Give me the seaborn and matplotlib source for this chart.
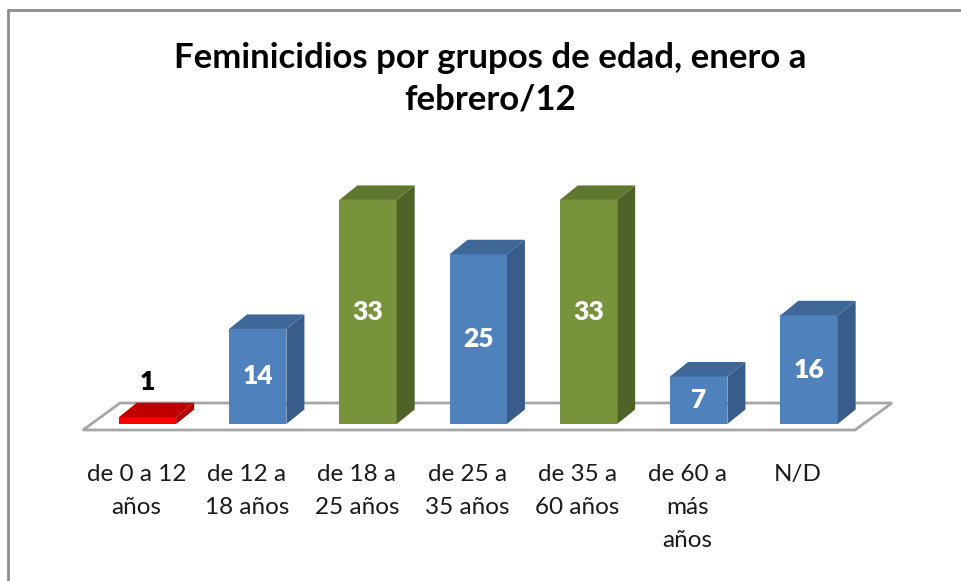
import numpy as np
import pandas as pd
import matplotlib
matplotlib.use("Agg")
import matplotlib.pyplot as plt
from matplotlib.patches import Polygon
from matplotlib.lines import Line2D
import seaborn as sns

# ---- data ----
categories = ["de 0 a 12\naños", "de 12 a\n18 años", "de 18 a\n25 años", "de 25 a\n35 años",
              "de 35 a\n60 años", "de 60 a\nmás\naños", "N/D"]
values = [1, 14, 33, 25, 33, 7, 16]
title = "Feminicidios por grupos de edad, enero a\nfebrero/12"

# colour roles per bar
front_colors = ["#FF0000", "#4F81BD", "#77933C", "#4F81BD", "#77933C", "#4F81BD", "#4F81BD"]
side_colors = ["#B00000", "#385D8A", "#4F6228", "#385D8A", "#4F6228", "#385D8A", "#385D8A"]
top_colors = ["#C00000", "#3F6797", "#5F772F", "#3F6797", "#5F772F", "#3F6797", "#3F6797"]
label_colors = ["black", "white", "white", "white", "white", "white", "white"]

sns.set_theme(style="white")
plt.rcParams["font.family"] = ["Lato", "DejaVu Sans"]

W, H = 962, 581
fig = plt.figure(figsize=(W / 100, H / 100), dpi=100)
fig.patch.set_facecolor("white")

# axes: full width, bottom at pixel 450
ax_bottom_px = 450
ax = fig.add_axes([0, (H - ax_bottom_px) / H, 1, ax_bottom_px / H])
ax.set_facecolor("none")

n = len(categories)
df = pd.DataFrame({"cat": categories, "val": values})
sns.barplot(data=df, x="cat", y="val", hue="cat", palette=front_colors,
            width=0.52, legend=False, ax=ax, saturation=1, zorder=3, linewidth=0)

px_per_cat = 110.25
px_per_unit = 6.79
x0_px = 147.5
base_px = 424
ax.set_xlim(-x0_px / px_per_cat, (W - x0_px) / px_per_cat)
ax.set_ylim((base_px - ax_bottom_px) / px_per_unit, base_px / px_per_unit)

dx = 18 / px_per_cat
dy = 14.5 / px_per_unit

# floor
fl_front_y = -6 / px_per_unit
fl_back_y = 21 / px_per_unit
fl_left_front = -0.585
fl_right_front = n - 1 + 0.417
fl_shift = 37 / px_per_cat
floor = Polygon([(fl_left_front, fl_front_y), (fl_right_front, fl_front_y),
                 (fl_right_front + fl_shift, fl_back_y), (fl_left_front + fl_shift, fl_back_y)],
                closed=True, facecolor="white", edgecolor="#A6A6A6", linewidth=2.0, zorder=1)
ax.add_patch(floor)

# 3D faces derived from seaborn bars
for i, p in enumerate(ax.patches[:n]):
    if not hasattr(p, "get_x"):
        continue
    x = p.get_x()
    w = p.get_width()
    h = p.get_height()
    side = Polygon([(x + w, 0), (x + w + dx, dy), (x + w + dx, h + dy), (x + w, h)],
                   closed=True, facecolor=side_colors[i], edgecolor="none", zorder=3)
    top = Polygon([(x, h), (x + w, h), (x + w + dx, h + dy), (x + dx, h + dy)],
                  closed=True, facecolor=top_colors[i], edgecolor="none", zorder=3)
    ax.add_patch(side)
    ax.add_patch(top)
    cx = x + w / 2
    if values[i] >= 5:
        ax.text(cx, h / 2, str(values[i]), ha="center", va="center", color=label_colors[i],
                fontsize=19, fontweight="heavy", zorder=5)
    else:
        ax.text(cx, h + dy + 1.3, str(values[i]), ha="center", va="bottom", color=label_colors[i],
                fontsize=19, fontweight="heavy", zorder=5)

ax.set_xticks(np.arange(n) - 0.1, categories)
ax.tick_params(axis="x", length=0, pad=10, labelsize=17.5, labelcolor="#1a1a1a")
ax.set_yticks([])
for lbl in ax.get_xticklabels():
    lbl.set_linespacing(1.7)
ax.set_xlabel("")
ax.set_ylabel("")
for s in ax.spines.values():
    s.set_visible(False)

fig.text(490 / W, 1 - 79 / H, title, ha="center", va="center", fontsize=25,
         fontweight="bold", color="black", linespacing=1.38)

# chart border (top and left visible)
fig.add_artist(Line2D([8 / W, 1], [1 - 10 / H, 1 - 10 / H], color="#8C8C8C", linewidth=2,
                      transform=fig.transFigure))
fig.add_artist(Line2D([8 / W, 8 / W], [0, 1 - 10 / H], color="#8C8C8C", linewidth=2,
                      transform=fig.transFigure))

fig.savefig("out.png", dpi=100, facecolor="white")
